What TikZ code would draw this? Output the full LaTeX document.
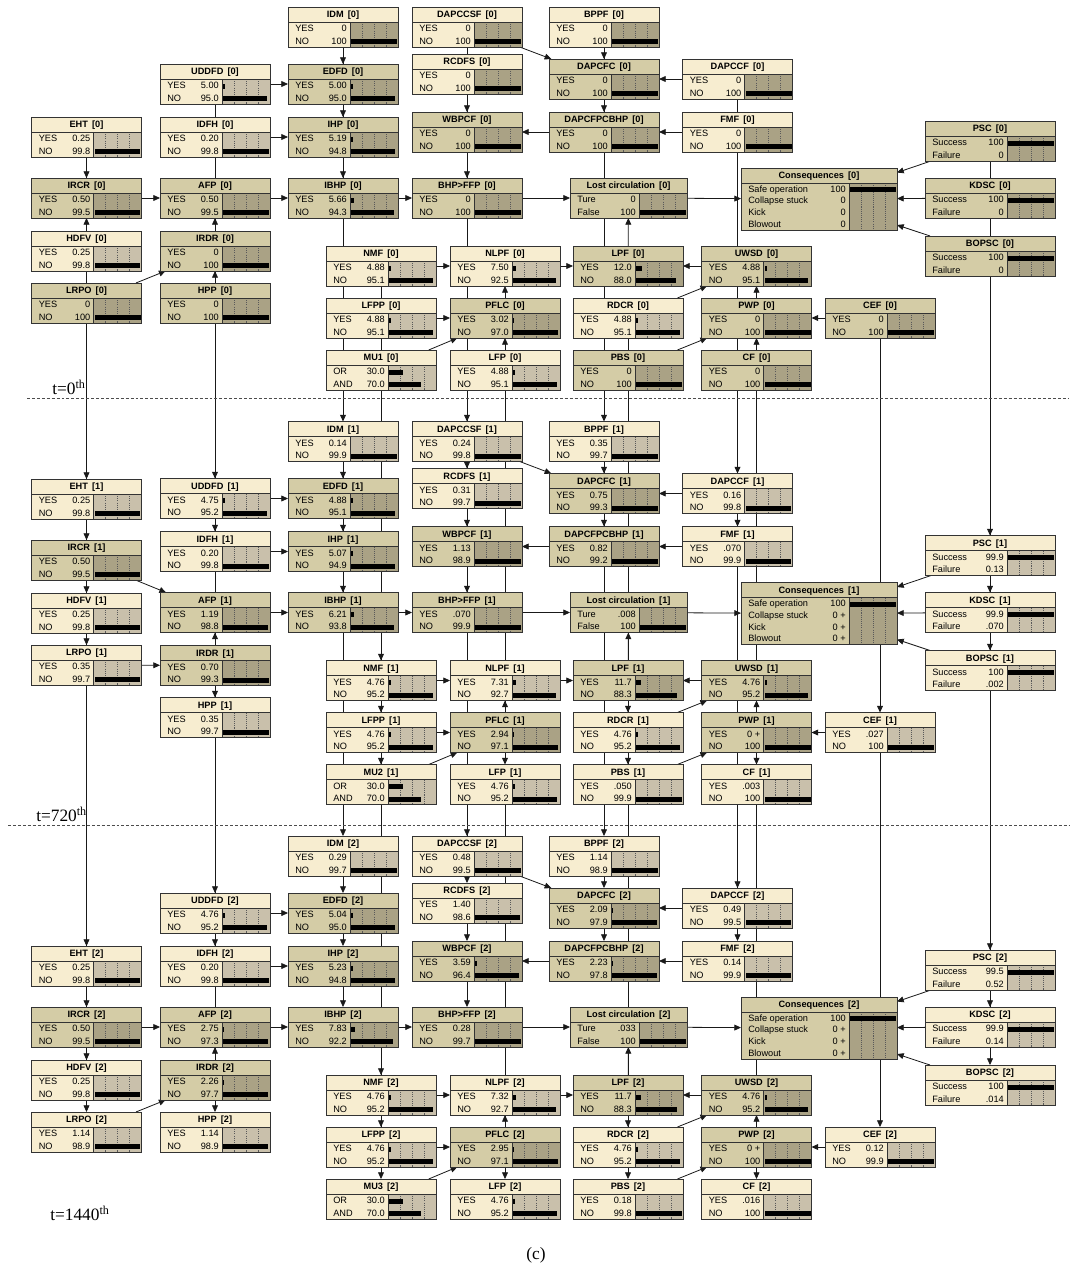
\documentclass[tikz,border=0pt]{standalone}
\usepackage{fontspec}
\setmainfont{Liberation Sans}
\newfontfamily\tnr{Liberation Serif}
\usetikzlibrary{arrows.meta,backgrounds}
\definecolor{bodyL}{HTML}{F7EDD0}
\definecolor{panelL}{HTML}{C9C0AB}
\definecolor{bodyD}{HTML}{D4CCA6}
\definecolor{panelD}{HTML}{AAA285}
\definecolor{bodyZ}{HTML}{F7EDD0}
\definecolor{panelZ}{HTML}{AAA285}
\tikzset{
 bnfill/.style={inner sep=0pt, outer sep=0pt, rectangle},
 bnline/.style={draw=black!80, line width=0.75pt},
 quart/.style={black!65, line width=0.45pt, dash pattern=on 0.8pt off 0.8pt},
 ttl/.style={font=\fontsize{6.9}{8}\selectfont\bfseries, inner sep=0pt, text height=4.95pt, text depth=0pt},
 st/.style={font=\fontsize{6.9}{8}\selectfont, inner sep=0pt, text height=4.95pt, text depth=0pt},
 arc/.style={line width=0.6pt, black!90, -{Triangle[length=5pt,width=4.4pt]}},
 sep/.style={line width=0.75pt, black!70, dash pattern=on 2.2pt off 1.5pt},
 tlab/.style={font=\tnr\fontsize{13}{15}\selectfont, inner sep=0pt, anchor=base west},
}
% generic BN node: name, L, T, W, H, style, title
\newcommand\bn[7]{%
 \pgfmathsetmacro\zL{#2}\pgfmathsetmacro\zT{#3}%
 \pgfmathsetmacro\zR{#2+#4}\pgfmathsetmacro\zB{\zT+#5}%
 \pgfmathsetmacro\zP{\zR-48}\pgfmathsetmacro\zTT{\zT+15}%
 \pgfmathsetmacro\zX{#2+#4/2}\pgfmathsetmacro\zY{\zT+#5/2}\pgfmathsetmacro\zTY{\zT+7.6}%
 \def\zH{#5}%
 \node[bnfill, fill=body#6, minimum width={#4*0.75pt}, minimum height={#5*0.75pt}] (#1) at (\zX,\zY) {};
 \fill[panel#6] (\zP,\zTT) rectangle (\zR,\zB);
 \foreach \q in {12,24,36} {\draw[quart] ({\zP+\q},\zTT) -- ({\zP+\q},\zB);}
 \draw[bnline] (\zL,\zTT) -- (\zR,\zTT) (\zP,\zTT) -- (\zP,\zB);
 \draw[bnline] (\zL,\zT) rectangle (\zR,\zB);
 \node[ttl] at (\zX,\zTY) {#7\hspace{0.45em}[\sn]};
}
% row: index, nrows, state, value text, percent
\newcommand\br[5]{%
 \pgfmathsetmacro\zyc{\zTT+(\zH-15)/#2*(#1-0.5)}%
 \node[st, anchor=west] at ({\zL+7},\zyc) {#3};
 \node[st, anchor=east] at ({\zP-3},\zyc) {#4};
 \pgfmathtruncatemacro\zhb{(#5>=1.5)?1:0}%
 \ifnum\zhb=1 \fill ({\zP+1},{\zyc-1.6}) rectangle ({\zP+1+#5*0.46},{\zyc+3.4});\fi
}
\newcommand\yn[9]{\bn{#1}{#2}{#3}{110}{40}{#4}{#5}\br{1}{2}{YES}{#6}{#7}\br{2}{2}{NO}{#8}{#9}}
\begin{document}
\begin{tikzpicture}[x=0.75pt,y=-0.75pt]
\begin{pgfonlayer}{background}
\fill[white] (0,0) rectangle (1070,1274);
\end{pgfonlayer}
\useasboundingbox (0,0) rectangle (1070,1274);
%================ slice 0
\def\o{0}\def\sn{0}
\yn{EHT0}{31.5}{117+\o}{L}{EHT}{0.25}{0.25}{99.8}{99.8}
\yn{IRCR0}{31.5}{178+\o}{D}{IRCR}{0.50}{0.5}{99.5}{99.5}
\yn{HDFV0}{31.5}{231+\o}{L}{HDFV}{0.25}{0.25}{99.8}{99.8}
\yn{LRPO0}{31.5}{283+\o}{D}{LRPO}{0}{0}{100}{100}
\yn{UDDFD0}{160}{64+\o}{L}{UDDFD}{5.00}{5}{95.0}{95}
\yn{IDFH0}{160}{117+\o}{L}{IDFH}{0.20}{0.2}{99.8}{99.8}
\yn{AFP0}{160}{178+\o}{D}{AFP}{0.50}{0.5}{99.5}{99.5}
\yn{IRDR0}{160}{231+\o}{D}{IRDR}{0}{0}{100}{100}
\yn{HPP0}{160}{283+\o}{D}{HPP}{0}{0}{100}{100}
\yn{IDM0}{288}{7+\o}{Z}{IDM}{0}{0}{100}{100}
\yn{EDFD0}{288}{64+\o}{D}{EDFD}{5.00}{5}{95.0}{95}
\yn{IHP0}{288}{117+\o}{D}{IHP}{5.19}{5.19}{94.8}{94.8}
\yn{IBHP0}{288}{178+\o}{D}{IBHP}{5.66}{5.66}{94.3}{94.3}
\yn{DAPCCSF0}{412}{7+\o}{Z}{DAPCCSF}{0}{0}{100}{100}
\yn{RCDFS0}{412}{54+\o}{Z}{RCDFS}{0}{0}{100}{100}
\yn{WBPCF0}{412}{112+\o}{D}{WBPCF}{0}{0}{100}{100}
\yn{BHP0}{412}{178+\o}{D}{BHP>FFP}{0}{0}{100}{100}
\yn{BPPF0}{549}{7+\o}{Z}{BPPF}{0}{0}{100}{100}
\yn{DAPCFC0}{549}{59+\o}{D}{DAPCFC}{0}{0}{100}{100}
\yn{DPB0}{549}{112+\o}{D}{DAPCFPCBHP}{0}{0}{100}{100}
\bn{LC0}{570}{178+\o}{117}{40}{D}{Lost circulation}\br{1}{2}{Ture}{0}{0}\br{2}{2}{False}{100}{100}
\yn{DAPCCF0}{682.5}{59+\o}{Z}{DAPCCF}{0}{0}{100}{100}
\yn{FMF0}{682.5}{112+\o}{Z}{FMF}{0}{0}{100}{100}
\yn{NMF0}{326}{246+\o}{L}{NMF}{4.88}{4.88}{95.1}{95.1}
\yn{LFPP0}{326}{298+\o}{L}{LFPP}{4.88}{4.88}{95.1}{95.1}
\bn{MU0}{326}{350+\o}{110}{40}{L}{MU1}\br{1}{2}{OR}{30.0}{30}\br{2}{2}{AND}{70.0}{70}
\yn{NLPF0}{450}{246+\o}{L}{NLPF}{7.50}{7.5}{92.5}{92.5}
\yn{PFLC0}{450}{298+\o}{D}{PFLC}{3.02}{3.02}{97.0}{97}
\yn{LFP0}{450}{350+\o}{L}{LFP}{4.88}{4.88}{95.1}{95.1}
\yn{LPF0}{573}{246+\o}{D}{LPF}{12.0}{12}{88.0}{88}
\yn{RDCR0}{573}{298+\o}{L}{RDCR}{4.88}{4.88}{95.1}{95.1}
\yn{PBS0}{573}{350+\o}{D}{PBS}{0}{0}{100}{100}
\yn{UWSD0}{701.5}{246+\o}{D}{UWSD}{4.88}{4.88}{95.1}{95.1}
\yn{PWP0}{701.5}{298+\o}{D}{PWP}{0}{0}{100}{100}
\yn{CF0}{701.5}{350+\o}{D}{CF}{0}{0}{100}{100}
\yn{CEF0}{825}{298+\o}{D}{CEF}{0}{0}{100}{100}
\bn{PSC0}{925}{121+\o}{130}{40}{D}{PSC}\br{1}{2}{Success}{100}{100}\br{2}{2}{Failure}{0}{0}
\bn{KDSC0}{925}{178+\o}{130}{40}{D}{KDSC}\br{1}{2}{Success}{100}{100}\br{2}{2}{Failure}{0}{0}
\bn{BOPSC0}{925}{236+\o}{130}{40}{D}{BOPSC}\br{1}{2}{Success}{100}{100}\br{2}{2}{Failure}{0}{0}
\bn{CON0}{741}{168+\o}{156}{62}{D}{Consequences}\br{1}{4}{Safe operation}{100}{100}\br{2}{4}{Collapse stuck}{0}{0}\br{3}{4}{Kick}{0}{0}\br{4}{4}{Blowout}{0}{0}
%================ slice 1
\def\o{414.5}\def\sn{1}
\yn{EHT1}{31.5}{64.5+\o}{L}{EHT}{0.25}{0.25}{99.8}{99.8}
\yn{IRCR1}{31.5}{125.5+\o}{D}{IRCR}{0.50}{0.5}{99.5}{99.5}
\yn{HDFV1}{31.5}{178.5+\o}{L}{HDFV}{0.25}{0.25}{99.8}{99.8}
\yn{LRPO1}{31.5}{230.5+\o}{L}{LRPO}{0.35}{0.35}{99.7}{99.7}
\yn{UDDFD1}{160}{64+\o}{L}{UDDFD}{4.75}{4.75}{95.2}{95.2}
\yn{IDFH1}{160}{117+\o}{L}{IDFH}{0.20}{0.2}{99.8}{99.8}
\yn{AFP1}{160}{178+\o}{D}{AFP}{1.19}{1.19}{98.8}{98.8}
\yn{IRDR1}{160}{231+\o}{D}{IRDR}{0.70}{0.7}{99.3}{99.3}
\yn{HPP1}{160}{283+\o}{L}{HPP}{0.35}{0.35}{99.7}{99.7}
\yn{IDM1}{288}{7+\o}{L}{IDM}{0.14}{0.14}{99.9}{99.9}
\yn{EDFD1}{288}{64+\o}{D}{EDFD}{4.88}{4.88}{95.1}{95.1}
\yn{IHP1}{288}{117+\o}{D}{IHP}{5.07}{5.07}{94.9}{94.9}
\yn{IBHP1}{288}{178+\o}{D}{IBHP}{6.21}{6.21}{93.8}{93.8}
\yn{DAPCCSF1}{412}{7+\o}{L}{DAPCCSF}{0.24}{0.24}{99.8}{99.8}
\yn{RCDFS1}{412}{54+\o}{L}{RCDFS}{0.31}{0.31}{99.7}{99.7}
\yn{WBPCF1}{412}{112+\o}{D}{WBPCF}{1.13}{1.13}{98.9}{98.9}
\yn{BHP1}{412}{178+\o}{D}{BHP>FFP}{.070}{0}{99.9}{99.9}
\yn{BPPF1}{549}{7+\o}{L}{BPPF}{0.35}{0.35}{99.7}{99.7}
\yn{DAPCFC1}{549}{59+\o}{D}{DAPCFC}{0.75}{0.75}{99.3}{99.3}
\yn{DPB1}{549}{112+\o}{D}{DAPCFPCBHP}{0.82}{0.82}{99.2}{99.2}
\bn{LC1}{570}{178+\o}{117}{40}{D}{Lost circulation}\br{1}{2}{Ture}{.008}{0}\br{2}{2}{False}{100}{100}
\yn{DAPCCF1}{682.5}{59+\o}{L}{DAPCCF}{0.16}{0.16}{99.8}{99.8}
\yn{FMF1}{682.5}{112+\o}{L}{FMF}{.070}{0}{99.9}{99.9}
\yn{NMF1}{326}{246+\o}{L}{NMF}{4.76}{4.76}{95.2}{95.2}
\yn{LFPP1}{326}{298+\o}{L}{LFPP}{4.76}{4.76}{95.2}{95.2}
\bn{MU1}{326}{350+\o}{110}{40}{L}{MU2}\br{1}{2}{OR}{30.0}{30}\br{2}{2}{AND}{70.0}{70}
\yn{NLPF1}{450}{246+\o}{L}{NLPF}{7.31}{7.31}{92.7}{92.7}
\yn{PFLC1}{450}{298+\o}{D}{PFLC}{2.94}{2.94}{97.1}{97.1}
\yn{LFP1}{450}{350+\o}{L}{LFP}{4.76}{4.76}{95.2}{95.2}
\yn{LPF1}{573}{246+\o}{D}{LPF}{11.7}{11.7}{88.3}{88.3}
\yn{RDCR1}{573}{298+\o}{L}{RDCR}{4.76}{4.76}{95.2}{95.2}
\yn{PBS1}{573}{350+\o}{L}{PBS}{.050}{0}{99.9}{99.9}
\yn{UWSD1}{701.5}{246+\o}{D}{UWSD}{4.76}{4.76}{95.2}{95.2}
\yn{PWP1}{701.5}{298+\o}{D}{PWP}{0 +}{0}{100}{100}
\yn{CF1}{701.5}{350+\o}{L}{CF}{.003}{0}{100}{100}
\yn{CEF1}{825}{298+\o}{L}{CEF}{.027}{0}{100}{100}
\bn{PSC1}{925}{121+\o}{130}{40}{L}{PSC}\br{1}{2}{Success}{99.9}{99.9}\br{2}{2}{Failure}{0.13}{0}
\bn{KDSC1}{925}{178+\o}{130}{40}{L}{KDSC}\br{1}{2}{Success}{99.9}{99.9}\br{2}{2}{Failure}{.070}{0}
\bn{BOPSC1}{925}{236+\o}{130}{40}{L}{BOPSC}\br{1}{2}{Success}{100}{100}\br{2}{2}{Failure}{.002}{0}
\bn{CON1}{741}{168+\o}{156}{62}{D}{Consequences}\br{1}{4}{Safe operation}{100}{100}\br{2}{4}{Collapse stuck}{0 +}{0}\br{3}{4}{Kick}{0 +}{0}\br{4}{4}{Blowout}{0 +}{0}
%================ slice 2
\def\o{829}\def\sn{2}
\yn{EHT2}{31.5}{117+\o}{L}{EHT}{0.25}{0.25}{99.8}{99.8}
\yn{IRCR2}{31.5}{178+\o}{D}{IRCR}{0.50}{0.5}{99.5}{99.5}
\yn{HDFV2}{31.5}{231+\o}{L}{HDFV}{0.25}{0.25}{99.8}{99.8}
\yn{LRPO2}{31.5}{283+\o}{L}{LRPO}{1.14}{1.14}{98.9}{98.9}
\yn{UDDFD2}{160}{64+\o}{L}{UDDFD}{4.76}{4.76}{95.2}{95.2}
\yn{IDFH2}{160}{117+\o}{L}{IDFH}{0.20}{0.2}{99.8}{99.8}
\yn{AFP2}{160}{178+\o}{D}{AFP}{2.75}{2.75}{97.3}{97.3}
\yn{IRDR2}{160}{231+\o}{D}{IRDR}{2.26}{2.26}{97.7}{97.7}
\yn{HPP2}{160}{283+\o}{L}{HPP}{1.14}{1.14}{98.9}{98.9}
\yn{IDM2}{288}{7+\o}{L}{IDM}{0.29}{0.29}{99.7}{99.7}
\yn{EDFD2}{288}{64+\o}{D}{EDFD}{5.04}{5.04}{95.0}{95}
\yn{IHP2}{288}{117+\o}{D}{IHP}{5.23}{5.23}{94.8}{94.8}
\yn{IBHP2}{288}{178+\o}{D}{IBHP}{7.83}{7.83}{92.2}{92.2}
\yn{DAPCCSF2}{412}{7+\o}{L}{DAPCCSF}{0.48}{0.48}{99.5}{99.5}
\yn{RCDFS2}{412}{54+\o}{L}{RCDFS}{1.40}{1.4}{98.6}{98.6}
\yn{WBPCF2}{412}{112+\o}{D}{WBPCF}{3.59}{3.59}{96.4}{96.4}
\yn{BHP2}{412}{178+\o}{D}{BHP>FFP}{0.28}{0.28}{99.7}{99.7}
\yn{BPPF2}{549}{7+\o}{L}{BPPF}{1.14}{1.14}{98.9}{98.9}
\yn{DAPCFC2}{549}{59+\o}{D}{DAPCFC}{2.09}{2.09}{97.9}{97.9}
\yn{DPB2}{549}{112+\o}{D}{DAPCFPCBHP}{2.23}{2.23}{97.8}{97.8}
\bn{LC2}{570}{178+\o}{117}{40}{D}{Lost circulation}\br{1}{2}{Ture}{.033}{0}\br{2}{2}{False}{100}{100}
\yn{DAPCCF2}{682.5}{59+\o}{L}{DAPCCF}{0.49}{0.49}{99.5}{99.5}
\yn{FMF2}{682.5}{112+\o}{L}{FMF}{0.14}{0.14}{99.9}{99.9}
\yn{NMF2}{326}{246+\o}{L}{NMF}{4.76}{4.76}{95.2}{95.2}
\yn{LFPP2}{326}{298+\o}{L}{LFPP}{4.76}{4.76}{95.2}{95.2}
\bn{MU2}{326}{350+\o}{110}{40}{L}{MU3}\br{1}{2}{OR}{30.0}{30}\br{2}{2}{AND}{70.0}{70}
\yn{NLPF2}{450}{246+\o}{L}{NLPF}{7.32}{7.32}{92.7}{92.7}
\yn{PFLC2}{450}{298+\o}{D}{PFLC}{2.95}{2.95}{97.1}{97.1}
\yn{LFP2}{450}{350+\o}{L}{LFP}{4.76}{4.76}{95.2}{95.2}
\yn{LPF2}{573}{246+\o}{D}{LPF}{11.7}{11.7}{88.3}{88.3}
\yn{RDCR2}{573}{298+\o}{L}{RDCR}{4.76}{4.76}{95.2}{95.2}
\yn{PBS2}{573}{350+\o}{L}{PBS}{0.18}{0.18}{99.8}{99.8}
\yn{UWSD2}{701.5}{246+\o}{D}{UWSD}{4.76}{4.76}{95.2}{95.2}
\yn{PWP2}{701.5}{298+\o}{D}{PWP}{0 +}{0}{100}{100}
\yn{CF2}{701.5}{350+\o}{L}{CF}{.016}{0}{100}{100}
\yn{CEF2}{825}{298+\o}{L}{CEF}{0.12}{0.12}{99.9}{99.9}
\bn{PSC2}{925}{121+\o}{130}{40}{L}{PSC}\br{1}{2}{Success}{99.5}{99.5}\br{2}{2}{Failure}{0.52}{0.52}
\bn{KDSC2}{925}{178+\o}{130}{40}{L}{KDSC}\br{1}{2}{Success}{99.9}{99.9}\br{2}{2}{Failure}{0.14}{0}
\bn{BOPSC2}{925}{236+\o}{130}{40}{L}{BOPSC}\br{1}{2}{Success}{100}{100}\br{2}{2}{Failure}{.014}{0}
\bn{CON2}{741}{168+\o}{156}{62}{D}{Consequences}\br{1}{4}{Safe operation}{100}{100}\br{2}{4}{Collapse stuck}{0 +}{0}\br{3}{4}{Kick}{0 +}{0}\br{4}{4}{Blowout}{0 +}{0}
%================ separators and labels
\draw[sep] (27,398) -- (1069,398);
\draw[sep] (8,825) -- (1069,825);
\node[tlab] (lab0) at (52,394) {t=0\textsuperscript{th}};
\node[tlab] (lab1) at (36,821) {t=720\textsuperscript{th}};
\node[tlab] (lab2) at (50,1220) {t=1440\textsuperscript{th}};
\node[font=\tnr\fontsize{13}{15}\selectfont, inner sep=0pt] (cap) at (536,1255) {(c)};
%================ arcs
\begin{pgfonlayer}{background}
\foreach \t in {0,1,2}{
 \draw[arc] (IDM\t) -- (EDFD\t);
 \draw[arc] (UDDFD\t) -- (EDFD\t);
 \draw[arc] (EDFD\t) -- (IHP\t);
 \draw[arc] (IDFH\t) -- (IHP\t);
 \draw[arc] (IHP\t) -- (IBHP\t);
 \draw[arc] (EHT\t) -- (IRCR\t);
 \draw[arc] (IRCR\t) -- (AFP\t);
 \draw[arc] (AFP\t) -- (IBHP\t);
 \draw[arc] (IRDR\t) -- (AFP\t);
 \draw[arc] (LRPO\t) -- (IRDR\t);
 \draw[arc] (IBHP\t) -- (BHP\t);
 \draw[arc] (DAPCCSF\t) -- (DAPCFC\t);
 \draw[arc] (BPPF\t) -- (DAPCFC\t);
 \draw[arc] (DAPCCF\t) -- (DAPCFC\t);
 \draw[arc] (DAPCFC\t) -- (DPB\t);
 \draw[arc] (FMF\t) -- (DPB\t);
 \draw[arc] (DPB\t) -- (WBPCF\t);
 \draw[arc] (RCDFS\t) -- (WBPCF\t);
 \draw[arc] (WBPCF\t) -- (BHP\t);
 \draw[arc] (BHP\t) -- (LC\t);
 \draw[arc] (LPF\t) -- (LC\t);
 \draw[arc] (LC\t) -- (CON\t);
 \draw[arc] (PSC\t) -- (CON\t);
 \draw[arc] (KDSC\t) -- (CON\t);
 \draw[arc] (BOPSC\t) -- (CON\t);
 \draw[arc] (NMF\t) -- (NLPF\t);
 \draw[arc] (NLPF\t) -- (LPF\t);
 \draw[arc] (UWSD\t) -- (LPF\t);
 \draw[arc] (LFPP\t) -- (PFLC\t);
 \draw[arc] (PFLC\t) -- (NLPF\t);
 \draw[arc] (MU\t) -- (PFLC\t);
 \draw[arc] (RDCR\t) -- (UWSD\t);
 \draw[arc] (PBS\t) -- (PWP\t);
 \draw[arc] (PWP\t) -- (UWSD\t);
 \draw[arc] (CEF\t) -- (PWP\t);
}
\draw[arc] (HDFV0) -- (IRCR0);
\draw[arc] (HPP0) -- (IRDR0);
\draw[arc] (LFP0) -- (PFLC0);
\draw[arc] (CF0) -- (PWP0);
\foreach \ta/\tb in {0/1,1/2}{
 \foreach \n in {EHT,HDFV,LRPO,UDDFD,IDFH,HPP,IDM,NMF,LFPP,MU,DAPCCSF,RCDFS,LFP,BPPF,RDCR,PBS,DAPCCF,FMF,CF,CEF,PSC,KDSC,BOPSC}{
  \draw[arc] (\n\ta) -- (\n\tb);
 }
}
\end{pgfonlayer}
\end{tikzpicture}
\end{document}
